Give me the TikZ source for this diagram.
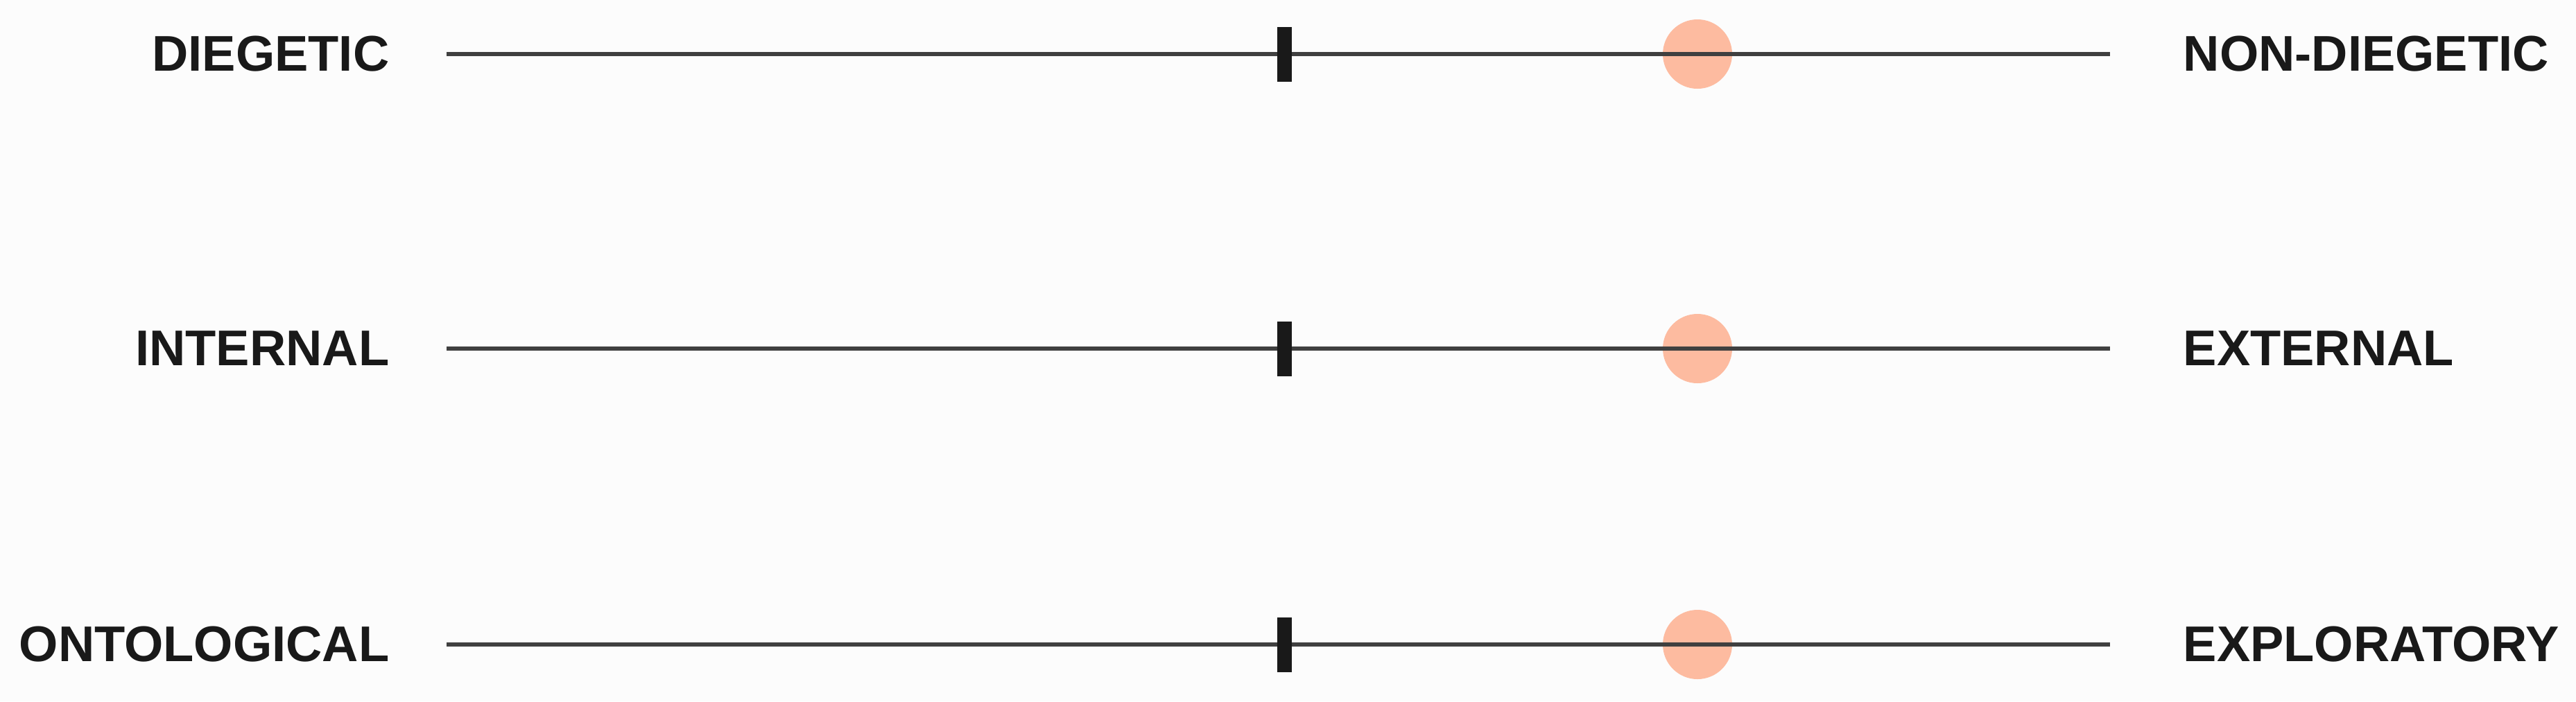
\documentclass[tikz,border=0pt]{standalone}
\usepackage{fontspec}
\setmainfont{Liberation Sans}
\usetikzlibrary{calc}
\definecolor{peach}{RGB}{253,187,160}
\tikzset{
  axislabel/.style={font=\bfseries\fontsize{20.6}{24}\selectfont, text=black!90, inner sep=0pt},
  tickmark/.style={rectangle, fill=black!90, inner sep=0pt, minimum width=0.21cm, minimum height=0.79cm},
  dot/.style={circle, fill=peach, inner sep=0pt, minimum size=1cm}
}

\begin{document}
\begin{tikzpicture}
		%%%%% START %%%%%
		
		\fill[black!1] (0, 0) rectangle (37.15, -10.12);
		\useasboundingbox (0, 0) rectangle (37.15, -10.12);
		
		\foreach \y/\lft/\rgt [count=\i] in {-0.78/DIEGETIC/NON-DIEGETIC, -5.03/INTERNAL/EXTERNAL, -9.30/ONTOLOGICAL/EXPLORATORY}{
			\node[axislabel, anchor=east] (left\i) at (5.62, \y) {\lft};
			\node[axislabel, anchor=west] (right\i) at (31.48, \y) {\rgt};
			\coordinate (start\i) at (6.44, \y);
			\coordinate (stop\i) at (30.43, \y);
			\node[dot] (dot\i) at (24.48, \y) {};
			\draw[line width=0.06cm, color=black!75] (start\i) -- (stop\i);
			\node[tickmark] (tick\i) at (18.52, \y) {};
		}
		
		%%%%% END %%%%%
	\end{tikzpicture}
\end{document}
